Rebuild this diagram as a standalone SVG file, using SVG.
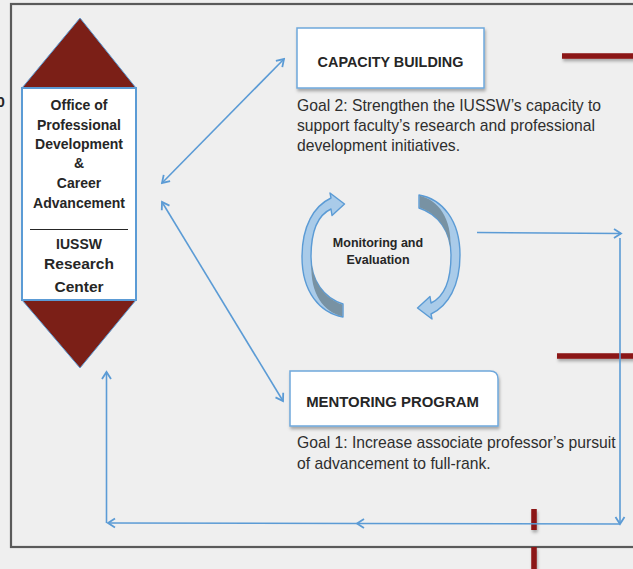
<svg xmlns="http://www.w3.org/2000/svg" width="633" height="569" viewBox="0 0 633 569">
<defs>
<style>
.bg{fill:#efefef}
.frame{fill:none;stroke:#5a5a5a;stroke-width:2.2}
.conn{fill:none;stroke:#5b9bd5;stroke-width:1.6}
.box{fill:#fff;stroke:#6fa8dc;stroke-width:1.5}
.h{font-family:"Liberation Sans",Arial,sans-serif;font-weight:bold;fill:#262626;text-anchor:middle}
.g{font-family:"Liberation Sans",Arial,sans-serif;font-size:15.7px;fill:#2e2e2e}
.mar{fill:#7b1f17;stroke:#5b9bd5;stroke-width:1}
.bar{stroke:#8b1515;stroke-width:5.5}
.cl{fill:#a9cbe9;stroke:#5b9bd5;stroke-width:1.4;stroke-linejoin:round}
.cd{fill:#7892a3;stroke:none}
</style>
<marker id="ah" viewBox="-10 -6 12 12" markerWidth="12" markerHeight="12" refX="0" refY="0" orient="auto-start-reverse" markerUnits="userSpaceOnUse"><path d="M-7,-4.5 L0,0 L-7,4.5" fill="none" stroke="#5b9bd5" stroke-width="1.8"/></marker>
<filter id="sh" x="-20%" y="-200%" width="140%" height="500%"><feDropShadow dx="1" dy="2.5" stdDeviation="1.5" flood-color="#000" flood-opacity="0.3"/></filter>
<g id="curved">
<path class="cl" d="M343,317 C320,313 302,292 302,257 C302,226 314,206 331,198 L330,193 L344.5,204 L332,215.5 L331,209 C318,215 311,232 311,257 C311,281 324,298 343,304 Z"/>
<path class="cd" d="M311.5,264 C314,285 326,299 342.3,304.6 L342.3,316.3 C324,312 310,294 311.5,264 Z"/>
</g>
</defs>
<rect class="bg" x="0" y="0" width="633" height="569"/>
<rect class="frame" x="11" y="4" width="700" height="543"/>
<text x="-3.5" y="107" font-family="Liberation Sans, Arial, sans-serif" font-weight="bold" font-size="15" fill="#262626">0</text>

<g id="decor" filter="url(#sh)">
<line class="bar" x1="562" y1="56" x2="640" y2="56"/>
<line class="bar" x1="557" y1="356" x2="640" y2="356"/>
<line class="bar" x1="534" y1="509" x2="534" y2="530"/>
<line class="bar" x1="534" y1="547" x2="534" y2="572"/>
</g>

<g id="office">
<polygon class="mar" points="80,18 136,88 22,88"/>
<polygon class="mar" points="22,300 136,300 80,368"/>
<rect x="22" y="88" width="114" height="212" fill="#fff" stroke="#5b9bd5" stroke-width="2"/>
<text class="h" font-size="14" x="79" y="110">Office of</text>
<text class="h" font-size="14" x="79" y="130">Professional</text>
<text class="h" font-size="14" x="79" y="149">Development</text>
<text class="h" font-size="14" x="79" y="168">&amp;</text>
<text class="h" font-size="14" x="79" y="188">Career</text>
<text class="h" font-size="14" x="79" y="208">Advancement</text>
<line x1="30" y1="229.5" x2="128" y2="229.5" stroke="#262626" stroke-width="1.2"/>
<text class="h" font-size="14" x="79" y="249">IUSSW</text>
<text class="h" font-size="15.5" x="79" y="269">Research</text>
<text class="h" font-size="15.5" x="79" y="292">Center</text>
</g>

<g id="capacity">
<rect class="box" x="297" y="28" width="187" height="60" filter="url(#sh)"/>
<text class="h" font-size="14.4" x="390.5" y="66.5">CAPACITY BUILDING</text>
<text class="g" x="297" y="110.5">Goal 2: Strengthen the IUSSW’s capacity to</text>
<text class="g" x="297" y="131">support faculty’s research and professional</text>
<text class="g" x="297" y="151">development initiatives.</text>
</g>

<g id="monitoring">
<use href="#curved"/>
<use href="#curved" transform="rotate(180 381 256)"/>
<text class="h" font-size="12.5" x="378" y="247" fill="#34404e">Monitoring and</text>
<text class="h" font-size="12.5" x="378" y="263.5" fill="#34404e">Evaluation</text>
</g>

<g id="mentoring">
<path class="box" d="M290,371 H490 Q498,371 498,379 V426 H290 Z" filter="url(#sh)"/>
<text class="h" font-size="14.9" x="392.5" y="406.5">MENTORING PROGRAM</text>
<text class="g" x="297" y="448">Goal 1: Increase associate professor’s pursuit</text>
<text class="g" x="297" y="468.5">of advancement to full-rank.</text>
</g>

<g id="connectors">
<line class="conn" x1="162" y1="183" x2="284" y2="59" marker-start="url(#ah)" marker-end="url(#ah)"/>
<line class="conn" x1="162" y1="202" x2="283" y2="401" marker-start="url(#ah)" marker-end="url(#ah)"/>
<line class="conn" x1="477" y1="232.5" x2="621" y2="233.5" marker-end="url(#ah)"/>
<line class="conn" x1="620" y1="238" x2="620" y2="524" marker-end="url(#ah)"/>
<line class="conn" x1="620" y1="524" x2="357" y2="523.5" marker-end="url(#ah)"/>
<line class="conn" x1="357" y1="523.5" x2="108" y2="523" marker-end="url(#ah)"/>
<line class="conn" x1="106.5" y1="523" x2="106.5" y2="372" marker-end="url(#ah)"/>
</g>
</svg>
